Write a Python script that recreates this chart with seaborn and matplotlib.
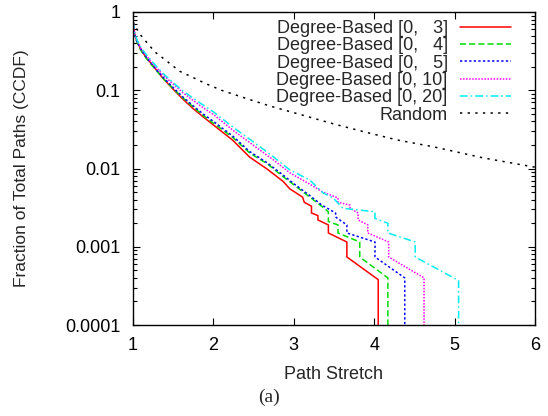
import numpy as np
import pandas as pd
import seaborn as sns
import matplotlib.pyplot as plt
from matplotlib.ticker import LogLocator, NullFormatter, FixedLocator

# Series (x = path stretch, y = CCDF)
deg3_x = [1.0, 1.02, 1.05, 1.1, 1.16, 1.25, 1.37, 1.5, 1.62, 1.75, 1.87, 2.0, 2.24, 2.45, 2.67, 2.87, 2.95,
          3.11, 3.13, 3.22, 3.22, 3.30, 3.30, 3.43, 3.43, 3.66, 3.66, 4.05, 4.05]
deg3_y = [0.75, 0.52, 0.42, 0.33, 0.265, 0.205, 0.143, 0.103, 0.077, 0.058, 0.046, 0.036, 0.023, 0.014, 0.0098,
          0.0068, 0.0055, 0.0043, 0.0037, 0.0033, 0.0027, 0.0025, 0.0022, 0.0019, 0.0015, 0.00115, 0.00074,
          0.00038, 0.0001]

deg4_x = [1.0, 1.02, 1.05, 1.1, 1.16, 1.25, 1.37, 1.5, 1.62, 1.75, 1.87, 2.0, 2.24, 2.45, 2.67, 2.87, 3.0,
          3.2, 3.33, 3.43, 3.43, 3.55, 3.55, 3.82, 3.82, 4.17, 4.17]
deg4_y = [0.75, 0.51, 0.41, 0.32, 0.26, 0.2, 0.143, 0.105, 0.08, 0.061, 0.048, 0.038, 0.025, 0.0158, 0.0115,
          0.0078, 0.0062, 0.0043, 0.0034, 0.0028, 0.0021, 0.0019, 0.0015, 0.00115, 0.00074, 0.0004, 0.0001]

deg5_x = [1.0, 1.02, 1.05, 1.1, 1.16, 1.25, 1.37, 1.5, 1.62, 1.75, 1.87, 2.0, 2.24, 2.45, 2.67, 2.87, 3.0,
          3.2, 3.35, 3.52, 3.52, 3.66, 3.66, 4.01, 4.01, 4.38, 4.38]
deg5_y = [0.75, 0.52, 0.42, 0.33, 0.27, 0.205, 0.148, 0.108, 0.082, 0.063, 0.05, 0.04, 0.026, 0.0165, 0.0118,
          0.0082, 0.0064, 0.0045, 0.0034, 0.0027, 0.0024, 0.0019, 0.0015, 0.00115, 0.00074, 0.0004, 0.0001]

deg10_x = [1.0, 1.02, 1.05, 1.1, 1.16, 1.25, 1.37, 1.5, 1.62, 1.75, 1.87, 2.0, 2.24, 2.52, 2.75, 2.95, 3.2,
           3.36, 3.55, 3.55, 3.70, 3.70, 3.80, 3.80, 3.92, 3.92, 4.18, 4.18, 4.62, 4.62]
deg10_y = [0.76, 0.53, 0.43, 0.34, 0.28, 0.215, 0.158, 0.12, 0.093, 0.074, 0.06, 0.049, 0.031, 0.019, 0.0128,
           0.0088, 0.0063, 0.005, 0.0042, 0.0037, 0.0034, 0.0031, 0.0027, 0.0022, 0.0019, 0.0015, 0.00115,
           0.00074, 0.0004, 0.0001]

deg20_x = [1.0, 1.02, 1.05, 1.1, 1.16, 1.25, 1.37, 1.5, 1.62, 1.75, 1.87, 2.0, 2.24, 2.52, 2.75, 2.95, 3.2,
           3.36, 3.49, 3.61, 4.01, 4.01, 4.17, 4.17, 4.51, 4.51, 5.05, 5.05]
deg20_y = [0.76, 0.54, 0.44, 0.35, 0.29, 0.225, 0.165, 0.125, 0.098, 0.079, 0.065, 0.053, 0.034, 0.021, 0.014,
           0.0096, 0.0071, 0.0049, 0.0042, 0.0031, 0.0028, 0.0023, 0.0020, 0.0015, 0.00115, 0.00074, 0.00037,
           0.0001]

rand_x = [1.0, 1.05, 1.1, 1.17, 1.27, 1.4, 1.58, 1.75, 1.9, 2.1, 2.4, 2.7, 3.05, 3.5, 3.9, 4.3, 4.73, 5.0,
          5.35, 5.7, 6.0]
rand_y = [0.75, 0.6, 0.5, 0.41, 0.31, 0.245, 0.175, 0.145, 0.122, 0.1, 0.079, 0.063, 0.05, 0.037, 0.029,
          0.023, 0.019, 0.0165, 0.0137, 0.0118, 0.0104]

labels = ["Degree-Based [0,   3]", "Degree-Based [0,   4]", "Degree-Based [0,   5]",
          "Degree-Based [0, 10]", "Degree-Based [0, 20]", "Random"]
xticks = [1, 2, 3, 4, 5, 6]
yticks = [1, 0.1, 0.01, 0.001, 0.0001]
ytick_labels = ["1", "0.1", "0.01", "0.001", "0.0001"]

series = [(deg3_x, deg3_y), (deg4_x, deg4_y), (deg5_x, deg5_y),
          (deg10_x, deg10_y), (deg20_x, deg20_y), (rand_x, rand_y)]
colors = ["#ff0000", "#00dd00", "#0000ff", "#ff00ff", "#00eeee", "#000000"]
styles = ["-", (0, (4, 2)), (0, (1.5, 1.5)), (0, (1, 1)), (0, (5, 2, 1, 2)), (0, (1.5, 3.5))]

sns.set_style("ticks")
plt.rcParams["font.family"] = ["Liberation Sans", "DejaVu Sans"]

fig = plt.figure(figsize=(5.48, 4.16), dpi=100)
ax = fig.add_axes([133 / 548, 1 - 325 / 416, 402 / 548, 313 / 416])

for (xs, ys), lab, col, ls in zip(series, labels, colors, styles):
    df = pd.DataFrame({"x": xs, "y": ys})
    sns.lineplot(data=df, x="x", y="y", ax=ax, sort=False, estimator=None,
                 color=col, linestyle=ls, linewidth=1.1, label=lab)

ax.set_yscale("log")
ax.set_xlim(1, 6)
ax.set_ylim(0.0001, 1)
ax.xaxis.set_major_locator(FixedLocator(xticks))
ax.set_xticklabels([str(t) for t in xticks])
ax.yaxis.set_major_locator(FixedLocator(yticks))
ax.set_yticklabels(ytick_labels)
ax.yaxis.set_minor_locator(LogLocator(base=10, subs=np.arange(2, 10)))
ax.yaxis.set_minor_formatter(NullFormatter())

ax.tick_params(which="both", direction="in", top=True, right=True, labelsize=13, colors="black", width=0.8)
ax.tick_params(which="major", length=5)
ax.tick_params(which="minor", length=3)
ax.tick_params(axis="x", which="major", pad=9)
ax.tick_params(axis="y", which="major", pad=9)
for sp in ax.spines.values():
    sp.set_linewidth(1.0)
    sp.set_color("black")

ax.set_xlabel("Path Stretch", fontsize=13, labelpad=8)
ax.set_ylabel("Fraction of Total Paths (CCDF)", fontsize=12.5, labelpad=26)

ax.legend(loc="upper right", bbox_to_anchor=(0.94, 0.975), frameon=False, markerfirst=False,
          handlelength=2.8, handletextpad=0.7, labelspacing=0.02, fontsize=13, borderaxespad=0,
          borderpad=0)

fig.text(0.49, 0.035, "(a)", fontsize=14, family=["Liberation Serif", "DejaVu Serif"], ha="center")

fig.savefig("out.png", dpi=100)
